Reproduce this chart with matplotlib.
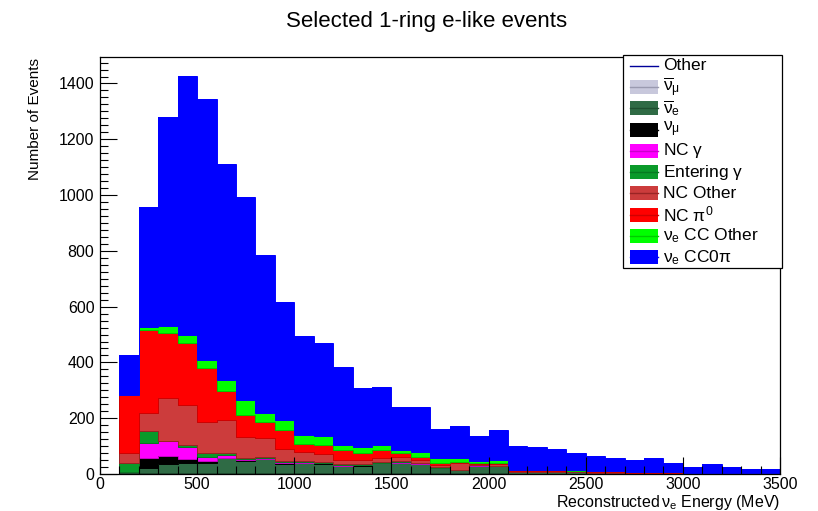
import numpy as np
import matplotlib
matplotlib.use("Agg")
import matplotlib.pyplot as plt
from matplotlib.patches import Rectangle
from matplotlib.lines import Line2D
from matplotlib.ticker import MultipleLocator

plt.rcParams['font.family'] = ['Liberation Sans', 'DejaVu Sans']
plt.rcParams['mathtext.fontset'] = 'custom'
plt.rcParams['mathtext.rm'] = 'Liberation Sans'
plt.rcParams['mathtext.it'] = 'Liberation Sans'

# 100 MeV bins from 100 to 3500 MeV
bin_edges = np.arange(100, 3600, 100)

total = [426, 957, 1279, 1428, 1345, 1112, 993, 784, 617, 494, 468, 382,
         307, 313, 241, 241, 160, 173, 137, 158, 100, 98, 90, 76, 64, 56,
         50, 57, 38, 24, 36, 26, 17, 17]

tail_zero = [0] * 14
other = [3, 3, 2, 2, 2, 2, 2, 2, 2, 2, 2, 1, 1, 1, 1, 1, 1, 1, 1, 1] + [1] * 14
numubar = [0, 1, 1, 1, 1, 1, 1, 1, 1, 1, 1, 1, 1, 1, 1, 1, 1, 1, 1, 1] + tail_zero
nuebar = [5, 18, 34, 37, 37, 53, 45, 49, 33, 35, 33, 26, 28, 36, 38, 34, 18, 12, 28, 26,
          5, 5, 5, 5, 4, 4, 3, 3, 2, 2, 2, 1, 1, 1]
numu = [0, 36, 26, 14, 8, 2, 2, 2, 2, 2, 2, 2, 1, 1, 1, 1, 1, 0, 0, 0] + tail_zero
nc_gamma = [0, 54, 54, 44, 14, 10, 3, 3, 4, 3, 2, 2, 2, 2, 2, 1, 1, 1, 1, 1] + tail_zero
entering_gamma = [30, 43, 3, 6, 12, 6, 5, 5, 5, 5, 3, 3, 3, 3, 3, 2, 2, 1, 1, 1] + tail_zero
nc_other = [36, 62, 151, 145, 113, 119, 76, 66, 44, 32, 30, 15, 14, 12, 16, 10, 8, 24, 4, 6,
            3, 3, 3, 3, 2, 2, 1, 1, 1, 1, 1, 1, 0, 0]
nc_pi0 = [209, 298, 236, 221, 193, 105, 77, 57, 66, 28, 30, 36, 26, 30, 12, 12, 8, 4, 4, 4,
          4, 4, 4, 3, 3, 2, 2, 2, 2, 1, 1, 1, 1, 1]
cc_other = [0, 12, 24, 28, 28, 39, 54, 32, 35, 32, 34, 18, 20, 18, 12, 18, 16, 12, 6, 10,
            1, 1, 1, 1, 1, 1, 0, 0, 0, 0, 0, 0, 0, 0]

labels = ["Other", r"$\overline{\nu}_{\mu}$", r"$\overline{\nu}_{e}$", r"$\nu_{\mu}$",
          r"NC $\gamma$", r"Entering $\gamma$", "NC Other", r"NC $\pi^{0}$",
          r"$\nu_{e}$ CC Other", r"$\nu_{e}$ CC0$\pi$"]

fill_colors = ["none", "#c8c8dc", "#2f6b45", "#000000", "#ff00ff", "#0a9a2a",
               "#cc3c3c", "#ff0000", "#00ff00", "#0000ff"]
line_colors = ["#000099", "#9a9ab0", "#1f4f30", "#000000", "#cc00cc", "#067a20",
               "#9a2424", "#d00000", "#00cc00", "#0000ff"]

parts = [other, numubar, nuebar, numu, nc_gamma, entering_gamma, nc_other, nc_pi0, cc_other]
signal = np.array(total) - np.sum(parts, axis=0)
layers = [np.array(p, dtype=float) for p in parts] + [signal.astype(float)]

W, H = 818, 511
fig = plt.figure(figsize=(W / 100, H / 100), dpi=100)
ax = fig.add_axes([100 / W, 1 - 474 / H, 680 / W, 417 / H])

base = np.zeros(len(total))
for vals, fc, lc in zip(layers, fill_colors, line_colors):
    top = base + vals
    if fc != "none":
        ax.stairs(top, bin_edges, baseline=base, fill=True, color=fc, lw=0)
    ax.stairs(top, bin_edges, baseline=base, color=lc, lw=0.7)
    base = top

ax.set_xlim(0, 3500)
ax.set_ylim(0, 1495)
ax.xaxis.set_major_locator(MultipleLocator(500))
ax.xaxis.set_minor_locator(MultipleLocator(100))
ax.yaxis.set_major_locator(MultipleLocator(200))
ax.yaxis.set_minor_locator(MultipleLocator(25))
ax.tick_params(which='both', direction='in', top=False, right=False,
               labelsize=11.5, width=0.8, colors='black')
ax.tick_params(axis='x', which='major', length=12, pad=2)
ax.tick_params(axis='y', which='major', length=12, pad=4)
ax.tick_params(which='minor', length=6)
for s in ax.spines.values():
    s.set_linewidth(0.9)

fig.text(0.522, 1 - 22 / H, "Selected 1-ring e-like events", ha='center', va='center',
         fontsize=16)
fig.text(35 / W, 1 - 58 / H, "Number of Events", rotation=90, ha='center', va='top',
         fontsize=11)
fig.text(780 / W, 1 - 502 / H, r"Reconstructed$\,\nu_{e}$ Energy (MeV)", ha='right',
         va='center', fontsize=11.5)

# legend box drawn in figure pixels
def px(x, y):
    return x / W, 1 - y / H

x0, y0, x1, y1 = 623, 55, 782, 268
fig.patches.append(Rectangle(px(x0, y1), (x1 - x0) / W, (y1 - y0) / H,
                             transform=fig.transFigure, facecolor='white',
                             edgecolor='black', lw=0.9, zorder=5))
row_h = (y1 - y0) / 10
for i, (lab, fc, lc) in enumerate(zip(labels, fill_colors, line_colors)):
    cy = y0 + row_h * (i + 0.5)
    if fc == "none":
        fig.lines.append(Line2D([630 / W, 658 / W], [1 - cy / H] * 2, color=lc, lw=1,
                                transform=fig.transFigure, zorder=6))
    else:
        fig.patches.append(Rectangle(px(630, cy + 7), 28 / W, 14 / H,
                                     transform=fig.transFigure, facecolor=fc,
                                     edgecolor='none', zorder=6))
        fig.lines.append(Line2D([630 / W, 658 / W], [1 - cy / H] * 2, color=lc, lw=1,
                                transform=fig.transFigure, zorder=7))
    fig.text(663 / W, 1 - cy / H, lab, ha='left', va='center', fontsize=12.5, zorder=7)

fig.savefig("out.png", dpi=100)
